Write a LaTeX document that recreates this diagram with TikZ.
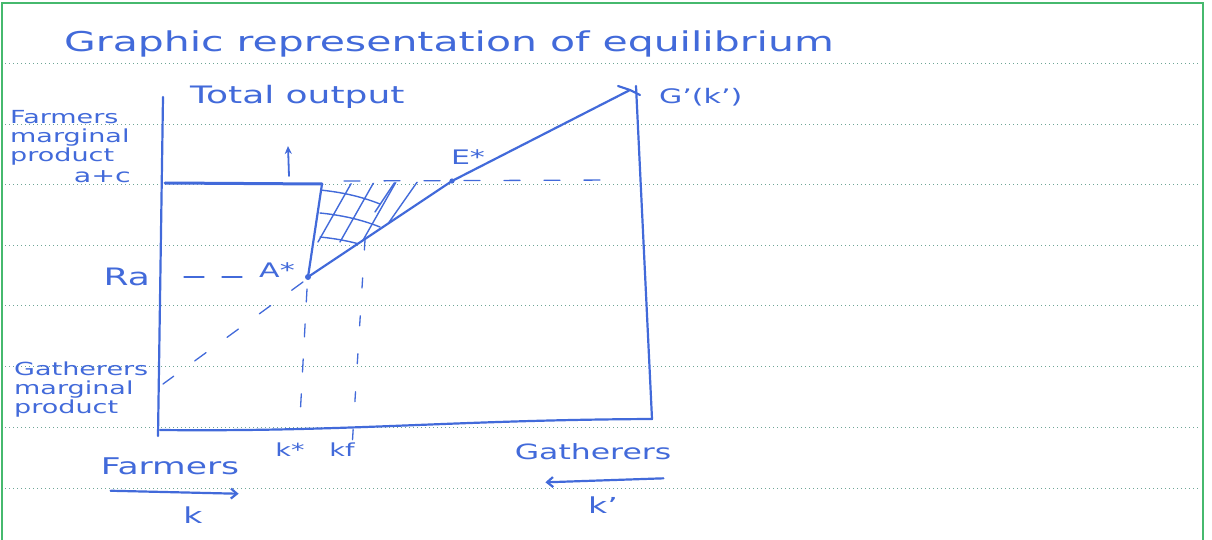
\documentclass[tikz,border=0pt]{standalone}
\usepackage{fontspec}
\setmainfont{DejaVu Sans}[FakeStretch=1.5]
\usetikzlibrary{arrows.meta,calc}
\definecolor{ink}{RGB}{66,106,218}
\definecolor{ruleg}{RGB}{110,165,150}
\definecolor{frameg}{RGB}{70,185,110}
\begin{document}
\begin{tikzpicture}[x=1pt,y=-1pt,
  pen/.style={draw=ink, line width=2.2pt, line cap=round, line join=round},
  thinpen/.style={draw=ink, line width=1.4pt, line cap=round},
  dashpen/.style={draw=ink, line width=1.3pt, line cap=round, dash pattern=on 14pt off 18pt},
  hand/.style={text=ink, inner sep=0pt, font=\fontsize{#1}{#1}\selectfont},
  hand/.default=20,
  lbl/.style={text=ink, inner sep=0pt, align=left, font=\fontsize{18}{19}\selectfont},
  rule/.style={draw=ruleg, line width=0.8pt, dash pattern=on 1.4pt off 2.6pt}]
\useasboundingbox (0,0) rectangle (1212,540);
\fill[white] (0,0) rectangle (1212,540);
% frame
\draw[frameg, line width=1.6pt] (2,540) -- (2,3) -- (1203,3) -- (1203,540);
% ruled lines
\foreach \yy in {63,124,184,245,305,366,427,488}
  \draw[rule] (5,\yy) -- (1200,\yy);
% title
\node[hand=27.3, anchor=west] (title) at (64,44) {Graphic representation of equilibrium};
\node[hand=24, anchor=west] (total) at (190,97) {Total output};
% coordinates
\coordinate (TL) at (163,97);
\coordinate (BL) at (158,436);
\coordinate (O) at (160,430);
\coordinate (BR) at (652,419);
\coordinate (TR) at (636,86);
\coordinate (G) at (630,90);
\coordinate (A) at (308,277);
\coordinate (E) at (452,181);
\coordinate (P) at (322,184);
\coordinate (Q) at (165,183);
\coordinate (R1) at (620,180);
% axes and box
\draw[pen] (TL) -- (BL);
\draw[pen] (O) .. controls (350,432) and (450,420) .. (BR) -- (TR);
% main line A* - E* - G'
\draw[pen] (A) -- (E) -- (G);
\draw[pen] (618,86) -- (G) -- (640,95);
\fill[ink] (A) circle (3pt) (E) circle (2.6pt);
% a+c line and vertical
\draw[pen, line width=3pt] (Q) -- (P);
\draw[pen] (P) -- (A);
\draw[dashpen, dash pattern=on 16pt off 24pt] (P) ++(22,-3) -- (R1);
% hatching
\begin{scope}
\clip (P) -- (A) -- (E) -- cycle;
\foreach \dx in {0,22,44}
  \draw[thinpen] ($(352,182)+(\dx,0)$) -- ++(-34,60);
\foreach \yy in {190,213,237}
  \draw[thinpen] (320,\yy) .. controls (340,\yy+2) and (360,\yy+6) .. (380,\yy+14);
\draw[thinpen] (420,178) -- (385,228);
\draw[thinpen] (395,182) -- (375,212);
\end{scope}
% small up arrow
\draw[thinpen, line width=1.8pt, -{Stealth[length=8pt,width=7pt]}] (289,176) -- (288,146) node[coordinate] (up) {};
% dashed guides
\draw[dashpen, dash pattern=on 20pt off 18pt] (A) ++(-66,0) coordinate (ra0) -- ++(-58,0);
\draw[dashpen, dash pattern=on 14pt off 26pt] (A) ++(-5,5) -- (163,384);
\draw[dashpen, dash pattern=on 13pt off 22pt] (A) ++(-1,12) coordinate (ks0) -- (300,418) coordinate (ks1);
\draw[dashpen, dash pattern=on 10pt off 28pt] (365,240) coordinate (kf0) -- (352,448) coordinate (kf1);
% labels
\node[hand=20] (Astar) at (277,270) {A*};
\node[hand=20] (Estar) at (468,157) {E*};
\node[hand=20, anchor=west] (Gk) at (659,97) {G'(k')};
\node[hand=24, anchor=east] (Ra) at (150,277) {Ra};
\node[lbl, anchor=north west] (fmp) at (10,110) {Farmers\\marginal\\product};
\node[hand=19, anchor=east] (ac) at (131,177) {a+c};
\node[lbl, anchor=north west] (gmp) at (14,362) {Gatherers\\marginal\\product};
\node[hand=18] (kstar) at (290,450) {k*};
\node[hand=18] (kf) at (342,450) {kf};
\node[hand=23] (farm) at (170,466) {Farmers};
\node[hand=21] (gath) at (593,452) {Gatherers};
\node[hand=22] (k) at (193,515) {k};
\node[hand=22] (kp) at (603,505) {k'};
\draw[pen, -{Straight Barb[length=6pt,width=10pt]}] (farm.south west) ++(10,16) coordinate (fa0) -- ++(128,3) coordinate (fa1);
\draw[pen, -{Straight Barb[length=6pt,width=10pt]}] (gath.south east) ++(-8,18) coordinate (ga0) -- ++(-118,4) coordinate (ga1);
\end{tikzpicture}
\end{document}
